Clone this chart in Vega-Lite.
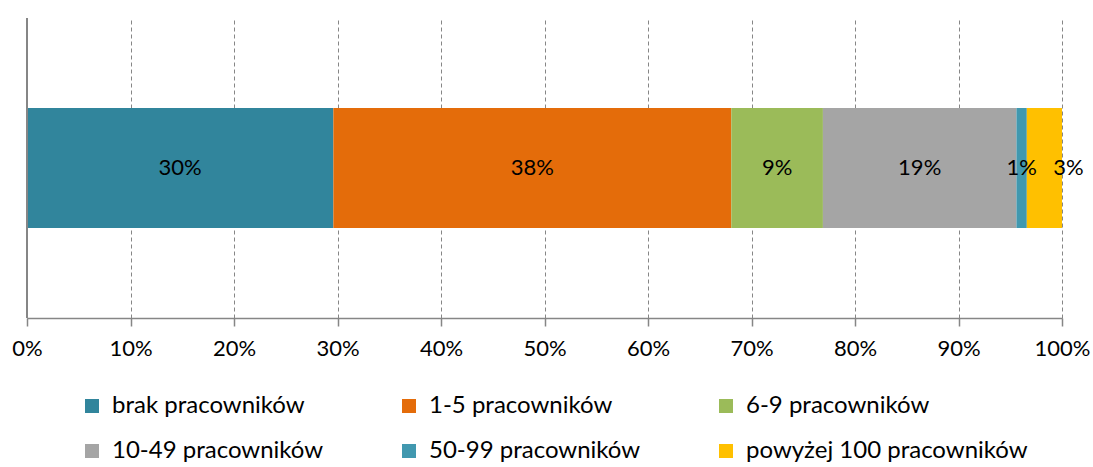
{
  "$schema": "https://vega.github.io/schema/vega-lite/v6.json",
  "width": 1035,
  "height": 300,
  "autosize": {"type": "none"},
  "padding": {"left": 27, "top": 18, "right": 31, "bottom": 149},
  "config": {
    "view": {"stroke": null},
    "font": "Lato",
    "text": {"font": "Lato"}
  },
  "data": {
    "values": [
      {"kategoria": "brak pracowników", "udzial": 0.296, "kolejnosc": 1},
      {"kategoria": "1-5 pracowników", "udzial": 0.3845, "kolejnosc": 2},
      {"kategoria": "6-9 pracowników", "udzial": 0.0885, "kolejnosc": 3},
      {"kategoria": "10-49 pracowników", "udzial": 0.187, "kolejnosc": 4},
      {"kategoria": "50-99 pracowników", "udzial": 0.010, "kolejnosc": 5},
      {"kategoria": "powyżej 100 pracowników", "udzial": 0.034, "kolejnosc": 6}
    ]
  },
  "layer": [
    {
      "mark": {"type": "bar", "height": 120},
      "encoding": {
        "x": {
          "field": "udzial",
          "type": "quantitative",
          "stack": "zero",
          "scale": {"domain": [0, 1], "nice": false},
          "axis": {
            "title": null,
            "format": ".0%",
            "values": [0, 0.1, 0.2, 0.3, 0.4, 0.5, 0.6, 0.7, 0.8, 0.9, 1],
            "grid": true,
            "gridDash": [4, 3],
            "gridColor": "#868686",
            "gridWidth": 1,
            "domainColor": "#868686",
            "domainWidth": 1.5,
            "tickColor": "#868686",
            "tickSize": 8,
            "tickWidth": 1.5,
            "labelFlush": false,
            "labelFont": "Lato",
            "labelFontSize": 22,
            "labelColor": "#000000",
            "labelPadding": 12
          }
        },
        "color": {
          "field": "kategoria",
          "type": "nominal",
          "scale": {
            "domain": ["brak pracowników", "1-5 pracowników", "6-9 pracowników", "10-49 pracowników", "50-99 pracowników", "powyżej 100 pracowników"],
            "range": ["#31859C", "#E46C0A", "#9BBB59", "#A5A5A5", "#4198AF", "#FFC000"]
          },
          "legend": {
            "title": null,
            "orient": "none",
            "legendX": 53,
            "legendY": 376,
            "direction": "horizontal",
            "columns": 3,
            "symbolType": "square",
            "symbolSize": 196,
            "symbolStrokeWidth": 0,
            "labelFont": "Lato",
            "labelFontSize": 24,
            "labelColor": "#000000",
            "labelOffset": 8,
            "labelLimit": 400,
            "columnPadding": 73,
            "rowPadding": 21
          }
        },
        "order": {"field": "kolejnosc", "type": "quantitative"}
      }
    },
    {
      "mark": {"type": "rule", "color": "#868686", "strokeWidth": 1.5},
      "encoding": {"x": {"datum": 0, "type": "quantitative"}}
    },
    {
      "transform": [
        {"stack": "udzial", "groupby": [], "sort": [{"field": "kolejnosc", "order": "ascending"}], "as": ["x0", "x1"]},
        {"calculate": "(datum.x0 + datum.x1) / 2", "as": "srodek"},
        {"filter": "datum.kolejnosc < 6"}
      ],
      "mark": {"type": "text", "fontSize": 22, "color": "#000000", "font": "Lato"},
      "encoding": {
        "x": {"field": "srodek", "type": "quantitative"},
        "text": {"field": "udzial", "type": "quantitative", "format": ".0%"}
      }
    },
    {
      "transform": [
        {"stack": "udzial", "groupby": [], "sort": [{"field": "kolejnosc", "order": "ascending"}], "as": ["x0", "x1"]},
        {"calculate": "(datum.x0 + datum.x1) / 2", "as": "srodek"},
        {"filter": "datum.kolejnosc == 6"}
      ],
      "mark": {"type": "text", "fontSize": 22, "color": "#000000", "font": "Lato", "dx": 24},
      "encoding": {
        "x": {"field": "srodek", "type": "quantitative"},
        "text": {"field": "udzial", "type": "quantitative", "format": ".0%"}
      }
    }
  ]
}
